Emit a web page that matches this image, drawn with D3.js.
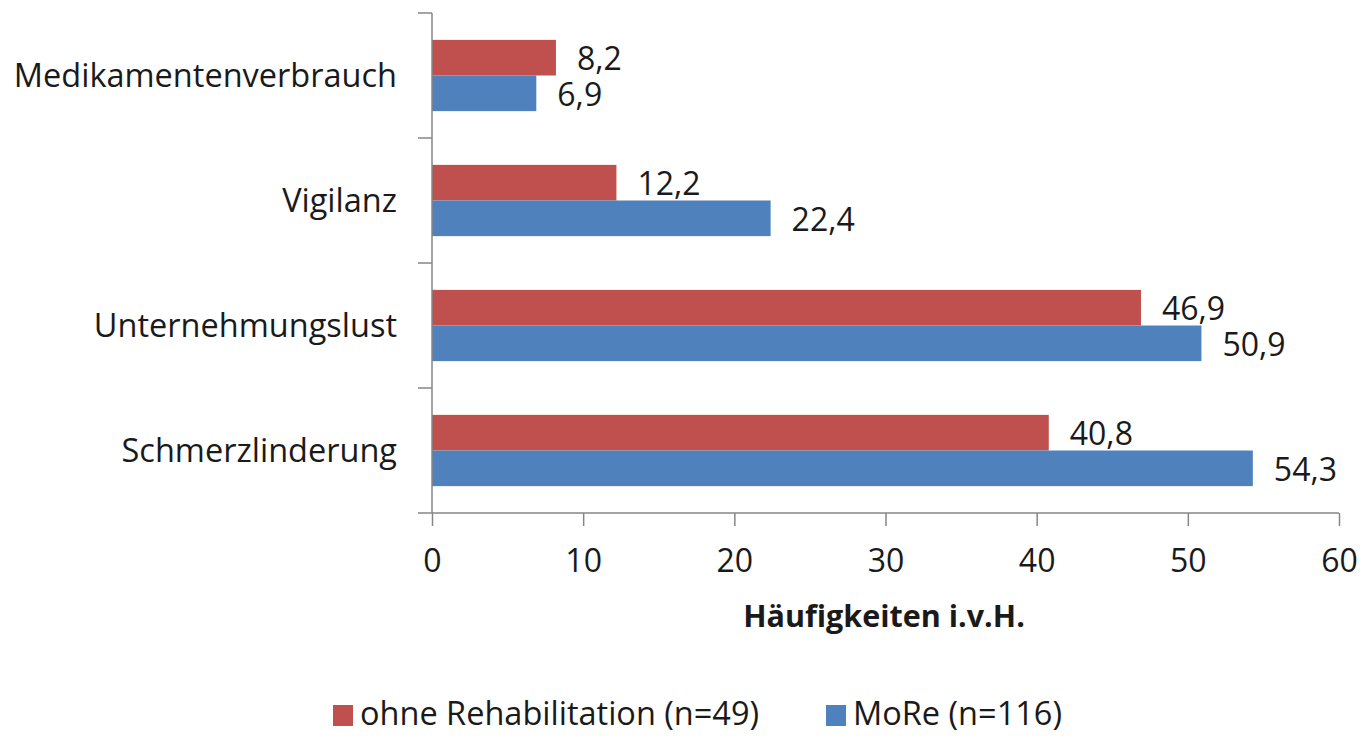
<!DOCTYPE html>
<html>
<head>
<meta charset="utf-8">
<script src="https://cdn.jsdelivr.net/npm/d3@7"></script>
<style>
  body { margin: 0; background: #fff; }
  svg text { font-family: "Open Sans", "Noto Sans", sans-serif; fill: #1a1a1a; }
</style>
</head>
<body>
<div id="chart"></div>
<script>
// categories top to bottom
var categories = ["Medikamentenverbrauch", "Vigilanz", "Unternehmungslust", "Schmerzlinderung"];
var seriesNames = ["ohne Rehabilitation (n=49)", "MoRe (n=116)"];
var ohneReha = [8.2, 12.2, 46.9, 40.8];
var more = [6.9, 22.4, 50.9, 54.3];
var xTicks = [0, 10, 20, 30, 40, 50, 60];
var xTitle = "Häufigkeiten i.v.H.";
var colors = ["#C0504D", "#4F81BD"];

function drawChart() {
  const W = 1365, H = 736;
  const margin = { top: 13, right: 26, bottom: 223, left: 432 };
  const width = W - margin.left - margin.right;
  const height = H - margin.top - margin.bottom;

  const svgRoot = d3.select("#chart").append("svg")
    .attr("width", W)
    .attr("height", H);
  const svg = svgRoot.append("g")
    .attr("transform", `translate(${margin.left},${margin.top})`);

  const x = d3.scaleLinear().domain([0, 60]).range([0, width]);
  const y = d3.scaleBand().domain(categories).range([0, height]).paddingInner(0.43).paddingOuter(0.215);
  const ySub = d3.scaleBand().domain([0, 1]).range([0, y.bandwidth()]);

  const rows = categories.map((c, i) => ({ cat: c, vals: [ohneReha[i], more[i]] }));

  // bars
  const grp = svg.selectAll(".grp")
    .data(rows)
    .enter().append("g")
    .attr("transform", d => `translate(0,${y(d.cat)})`);

  grp.selectAll("rect")
    .data(d => d.vals.map((v, k) => ({ v: v, k: k })))
    .enter().append("rect")
    .attr("x", 0)
    .attr("y", d => ySub(d.k))
    .attr("width", d => x(d.v))
    .attr("height", ySub.bandwidth())
    .attr("fill", d => colors[d.k]);

  // value labels
  grp.selectAll("text")
    .data(d => d.vals.map((v, k) => ({ v: v, k: k })))
    .enter().append("text")
    .attr("x", d => x(d.v) + 21)
    .attr("y", d => ySub(d.k) + ySub.bandwidth() / 2 + 12.5)
    .style("font-size", "32px")
    .text(d => d3.format(".1f")(d.v).replace(".", ","));

  // x axis
  const xaxisGrp = svg.append("g")
    .attr("transform", `translate(0,${height})`)
    .call(d3.axisBottom(x).tickValues(xTicks).tickSize(13).tickPadding(23));
  xaxisGrp.select(".domain").attr("stroke", "#868686").attr("stroke-width", 1.5)
    .attr("d", `M-14,0H${width}`);
  xaxisGrp.selectAll(".tick line").attr("stroke", "#868686").attr("stroke-width", 1.5);
  xaxisGrp.selectAll(".tick text").style("font-size", "32px").attr("fill", "#1a1a1a")
    .style("font-family", "'Open Sans', sans-serif");

  xaxisGrp.append("text")
    .attr("x", width / 2 - 1.5)
    .attr("y", 114)
    .attr("text-anchor", "middle")
    .style("font-size", "30.5px")
    .style("font-weight", "bold")
    .text(xTitle);

  // y axis (category boundaries as ticks)
  const yBound = d3.scaleLinear().domain([0, categories.length]).range([0, height]);
  const yAxisGrp = svg.append("g");
  yAxisGrp.append("line")
    .attr("x1", 0).attr("x2", 0).attr("y1", 0).attr("y2", height)
    .attr("stroke", "#868686").attr("stroke-width", 1.5);
  yAxisGrp.selectAll(".yt")
    .data(d3.range(categories.length))
    .enter().append("line")
    .attr("x1", -14).attr("x2", 0)
    .attr("y1", d => yBound(d)).attr("y2", d => yBound(d))
    .attr("stroke", "#868686").attr("stroke-width", 1.5);

  yAxisGrp.selectAll(".cat")
    .data(categories)
    .enter().append("text")
    .attr("x", -35)
    .attr("y", d => y(d) + y.bandwidth() / 2 + 11)
    .attr("text-anchor", "end")
    .style("font-size", "32.5px")
    .text(d => d);

  // legend
  const legendX = [333, 826];
  const leg = svgRoot.append("g");
  const item = leg.selectAll(".li")
    .data(seriesNames)
    .enter().append("g")
    .attr("transform", (d, i) => `translate(${legendX[i]},705)`);
  item.append("rect")
    .attr("width", 20).attr("height", 21)
    .attr("fill", (d, i) => colors[i]);
  item.append("text")
    .attr("x", 27)
    .attr("y", 20)
    .style("font-size", "32.5px")
    .text(d => d);
}
drawChart();
</script>
</body>
</html>
